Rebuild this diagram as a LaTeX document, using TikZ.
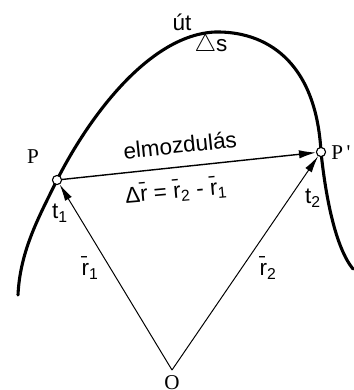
\documentclass[tikz,border=0pt]{standalone}
\usepackage{fontspec}
\setmainfont{Liberation Sans}
\newfontfamily\serifP{Liberation Serif}
\usetikzlibrary{arrows.meta}

\begin{document}
\begin{tikzpicture}[x=0.025cm, y=-0.025cm,
    palya/.style={line width=2.2pt, line cap=round},
    vec/.style={line width=0.7pt, -{Latex[length=12pt,width=5.5pt]}},
    disp/.style={line width=1pt, -{Latex[length=12pt,width=6pt]}},
    pt/.style={circle, draw, fill=white, line width=0.8pt, minimum size=6.5pt, inner sep=0pt},
    lbl/.style={font=\fontsize{16}{18}\selectfont, inner sep=1pt},
    plbl/.style={font=\serifP\fontsize{15}{17}\selectfont, inner sep=1pt},
]
\useasboundingbox (0,0) rectangle (354,390);
\coordinate (Ppos) at (57,180);
\coordinate (P2pos) at (321,152);
\coordinate (O) at (172,370);

% path of the body
\draw[palya] (18,295) .. controls (20,250) and (40,215) .. (Ppos)
  .. controls (90,115) and (150,35) .. (215,32)
  .. controls (265,31) and (316,60) .. (P2pos)
  .. controls (326,200) and (336,248) .. (353,269);

\node[pt] (P) at (Ppos) {};
\node[pt] (P2) at (P2pos) {};

% vectors
\draw[vec] (O) -- (P);
\draw[vec] (O) -- (P2);
\draw[disp] (P) -- (P2);

% labels
\node[plbl] (Plbl) at (33,157) {P};
\node[plbl] (P2lbl) at (341,153) {P\,'};
\node[plbl] (Olbl) at (172,383) {O};
\node[lbl] (ut) at (182,22) {út};
\node[lbl] (ds) at (211,45) {$\triangle$s};
\node[lbl, rotate=6] (elm) at (180,145) {elmozdulás};
\node[lbl, rotate=5] (dr) at (176,191) {Δ\={r} = \={r}\textsubscript{2} - \={r}\textsubscript{1}};
\node[lbl] (t1) at (60,213) {t\textsubscript{1}};
\node[lbl] (t2) at (313,198) {t\textsubscript{2}};
\node[lbl] (r1) at (90,268) {\={r}\textsubscript{1}};
\node[lbl] (r2) at (268,268) {\={r}\textsubscript{2}};
\end{tikzpicture}
\end{document}
